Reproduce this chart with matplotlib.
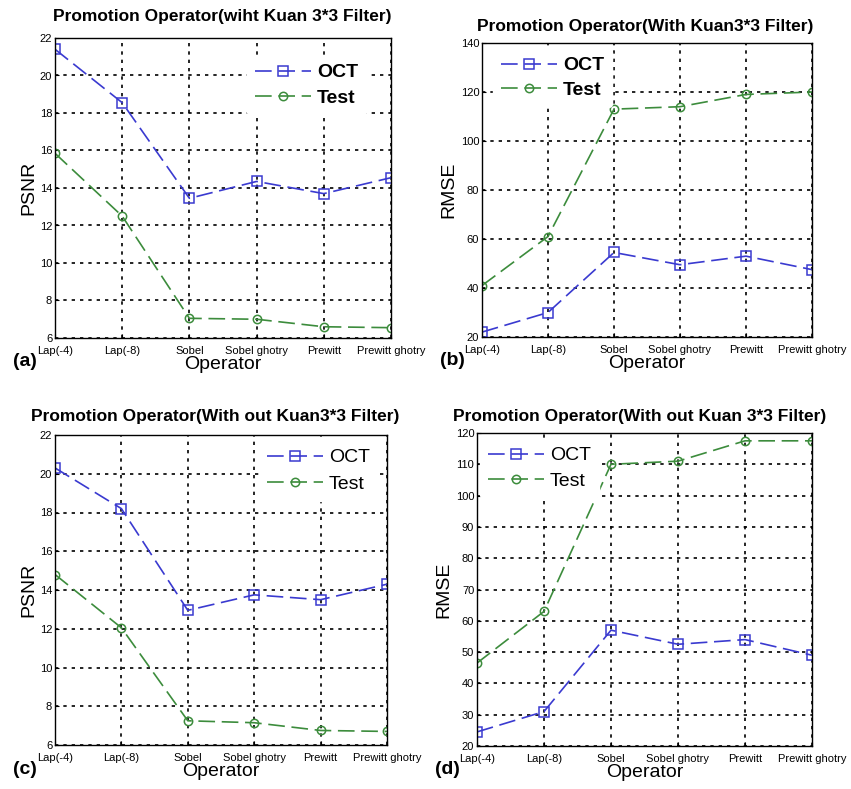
import matplotlib
matplotlib.use('Agg')
import matplotlib.pyplot as plt

plt.rcParams['font.family'] = ['Liberation Sans', 'DejaVu Sans']

operators = ['Lap(-4)', 'Lap(-8)', 'Sobel', 'Sobel ghotry', 'Prewitt', 'Prewitt ghotry']

# (a) PSNR with Kuan filter
psnr_oct_kuan = [21.4, 18.55, 13.45, 14.35, 13.7, 14.55]
psnr_test_kuan = [15.85, 12.5, 7.05, 7.0, 6.6, 6.55]
# (b) RMSE with Kuan filter
rmse_oct_kuan = [22, 30, 54.5, 49.5, 53, 47.5]
rmse_test_kuan = [41, 61, 113, 114, 119, 120]
# (c) PSNR without Kuan filter
psnr_oct_nokuan = [20.3, 18.2, 12.95, 13.75, 13.5, 14.3]
psnr_test_nokuan = [14.8, 12.05, 7.25, 7.15, 6.75, 6.7]
# (d) RMSE without Kuan filter
rmse_oct_nokuan = [24.5, 31, 57, 52.5, 54, 49]
rmse_test_nokuan = [46.5, 63, 110, 111, 117.5, 117.5]

W, H = 851, 789
fig = plt.figure(figsize=(W / 100, H / 100), dpi=100)

blue = '#3a3ad0'
green = '#3c8c3c'


def px_axes(left, top, right, bottom):
    return fig.add_axes([left / W, 1 - bottom / H, (right - left) / W, (bottom - top) / H])


panels = [
    dict(box=(55, 38, 391, 338), oct=psnr_oct_kuan, test=psnr_test_kuan, ylim=(6, 22), step=2,
         ylabel='PSNR', title='Promotion Operator(wiht Kuan 3*3 Filter)', tag='(a)',
         leg=(247, 56), bold=True, spacing=0.4, title_y=17, title_x=222),
    dict(box=(482, 43, 812, 337), oct=rmse_oct_kuan, test=rmse_test_kuan, ylim=(20, 140), step=20,
         ylabel='RMSE', title='Promotion Operator(With Kuan3*3 Filter)', tag='(b)',
         leg=(493, 49), bold=True, spacing=0.35, title_y=26, title_x=645),
    dict(box=(55, 435, 387, 745), oct=psnr_oct_nokuan, test=psnr_test_nokuan, ylim=(6, 22), step=2,
         ylabel='PSNR', title='Promotion Operator(With out Kuan3*3 Filter)', tag='(c)',
         leg=(259, 441), bold=False, spacing=0.45, title_y=416, title_x=215),
    dict(box=(477, 433, 812, 746), oct=rmse_oct_nokuan, test=rmse_test_nokuan, ylim=(20, 120), step=10,
         ylabel='RMSE', title='Promotion Operator(With out Kuan 3*3 Filter)', tag='(d)',
         leg=(480, 439), bold=False, spacing=0.4, title_y=416, title_x=640),
]

x = list(range(len(operators)))
for p in panels:
    ax = px_axes(*p['box'])
    l, t, r, b = p['box']
    ax.plot(x, p['oct'], color=blue, lw=1.2, ls=(0, (10, 4)), marker='s', ms=7,
            mfc='none', mec=blue, mew=1.1, label='OCT')
    ax.plot(x, p['test'], color=green, lw=1.2, ls=(0, (10, 4)), marker='o', ms=6,
            mfc='none', mec=green, mew=1.1, label='Test')
    ax.set_xlim(0, 5)
    ax.set_ylim(*p['ylim'])
    lo, hi = p['ylim']
    ax.set_yticks(list(range(lo, hi + 1, p['step'])))
    ax.set_xticks(x)
    ax.set_xticklabels(operators, fontsize=8)
    ax.tick_params(axis='y', labelsize=8, length=3, direction='in', pad=2)
    ax.tick_params(axis='x', length=3, direction='in', pad=6)
    ax.grid(True, color='black', ls=(0, (2, 3)), lw=1.2)
    for s in ax.spines.values():
        s.set_linewidth(1.0)
    ax.set_ylabel(p['ylabel'], fontsize=14, labelpad=2)
    ax.set_xlabel('Operator', fontsize=14, labelpad=0)
    lx, ly = p['leg']
    leg = ax.legend(loc='upper left', bbox_to_anchor=((lx - l) / (r - l), 1 - (ly - t) / (b - t)),
                    borderaxespad=0, fontsize=14, frameon=True, framealpha=1.0,
                    edgecolor='white', facecolor='white', handlelength=2.9,
                    handletextpad=0.3, labelspacing=p['spacing'])
    if p['bold']:
        for txt in leg.get_texts():
            txt.set_fontweight('bold')
    fig.text(p['title_x'] / W, 1 - p['title_y'] / H, p['title'], fontsize=12.5,
             fontweight='bold', ha='center', va='center')
    fig.text((l - 42) / W, 1 - (b + 24) / H, p['tag'], fontsize=14,
             fontweight='bold', ha='left', va='center')

fig.savefig('out.png', dpi=100)
